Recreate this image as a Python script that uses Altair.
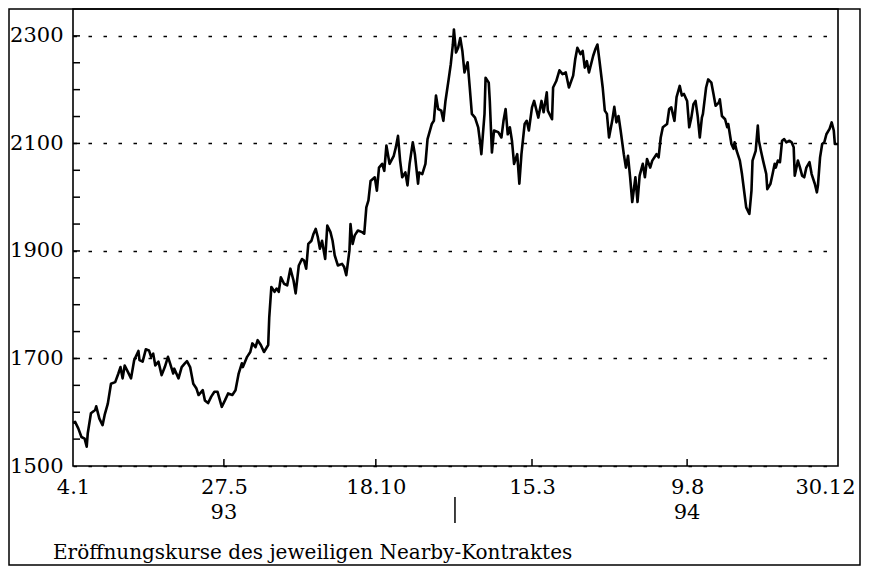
import altair as alt
import pandas as pd

# ---- data ----
# days since 4 Jan 1993 and opening price of the nearby contract
days = [0, 2, 5, 8, 11, 13, 14, 17, 21, 22, 25, 28, 30, 33, 36, 40, 43, 45, 47, 49,
        52, 55, 58, 62, 63, 66, 69, 72, 74, 76, 78, 81, 84, 87, 90, 92, 95, 96, 100, 103,
        106, 108, 111, 114, 117, 119, 123, 125, 128, 131, 134, 137, 141, 144, 147, 151,
        154, 157, 160, 161, 165, 168, 170, 173, 175, 178, 181, 185, 186, 188, 191, 193, 195, 197, 200, 203,
        206, 209, 211, 214, 217, 219, 221, 223, 226, 228, 230, 232, 234, 236, 239, 241, 244, 246, 248, 251,
        255, 257, 259, 262, 263, 265, 267, 270, 274, 276, 278, 280,
        282, 286, 288, 290, 293, 295, 297, 300, 304, 306, 308, 310, 312, 315, 317, 319, 322, 324, 327, 328,
        331, 334, 336, 340, 342, 344, 346, 349, 351, 353, 356, 358, 360, 361, 363, 365, 367, 369, 371, 374,
        376, 378, 381, 384, 386, 387, 390, 391, 394, 395, 397, 399, 403, 406, 408, 410, 412, 414, 416, 418,
        421, 423, 425, 428, 430, 432, 435, 437,
        441, 444, 446, 449, 450, 454, 455, 458, 461, 464, 467, 470, 474, 476, 478, 481, 483, 485, 487, 489,
        493, 495, 497, 499, 502, 504, 506, 508, 511, 513, 515, 517, 519, 522, 524, 526, 528, 530, 533, 535,
        537, 540, 542, 544, 547, 549, 553, 555, 557, 559, 563, 565, 567, 570, 572, 575, 577, 579,
        582, 584, 586, 588, 590, 592, 594, 596, 597, 600, 602, 605, 607, 609, 612, 613, 615, 618, 620, 621,
        623, 624, 626, 627, 629, 631, 632, 634, 636, 638, 641, 643, 644, 646, 647, 649, 650, 652, 654, 657,
        658, 661, 663, 665, 666, 668, 670, 672, 674, 676, 679, 681, 683, 684, 687, 689, 691, 693, 695, 698,
        700, 703, 705, 706, 708, 710, 712, 714, 717, 719, 721, 722, 725]
prices = [1580, 1582, 1570, 1554, 1551, 1536, 1561, 1598, 1604, 1611, 1588, 1576, 1595, 1616, 1653, 1656, 1672, 1684, 1663, 1687,
          1675, 1663, 1697, 1714, 1697, 1694, 1717, 1715, 1703, 1709, 1687, 1694, 1669, 1684, 1703, 1691, 1672, 1681, 1663, 1684,
          1691, 1695, 1684, 1653, 1644, 1632, 1641, 1622, 1617, 1629, 1638, 1638, 1610, 1622, 1635, 1632,
          1641, 1672, 1691, 1684, 1703, 1712, 1728, 1721, 1734, 1725, 1712, 1725, 1777, 1833, 1824, 1830, 1824, 1851, 1839, 1836,
          1867, 1845, 1821, 1873, 1885, 1882, 1867, 1913, 1919, 1932, 1941, 1926, 1904, 1919, 1885, 1947, 1935, 1919, 1892, 1873,
          1876, 1870, 1855, 1901, 1950, 1913, 1929, 1938, 1935, 1932, 1981, 1994,
          2030, 2037, 2012, 2055, 2062, 2049, 2096, 2062, 2077, 2093, 2114, 2068, 2037, 2046, 2022, 2062, 2102, 2080, 2025, 2046,
          2043, 2062, 2108, 2136, 2142, 2189, 2164, 2161, 2142, 2179, 2219, 2247, 2284, 2312, 2269, 2278, 2296, 2272, 2232, 2251,
          2204, 2155, 2148, 2130, 2099, 2080, 2155, 2222, 2213, 2179, 2083, 2124, 2121, 2111, 2142, 2164, 2117, 2130, 2105, 2062,
          2080, 2025, 2080, 2136, 2142, 2124, 2167, 2179,
          2148, 2179, 2158, 2195, 2161, 2145, 2204, 2216, 2236, 2229, 2232, 2204, 2226, 2257, 2278, 2266, 2272, 2241, 2253, 2232,
          2263, 2275, 2284, 2253, 2204, 2161, 2155, 2111, 2142, 2168, 2139, 2151, 2124, 2080, 2055, 2077, 2037, 1991, 2037, 1991,
          2040, 2062, 2037, 2071, 2055, 2068, 2080, 2074, 2111, 2130, 2136, 2164, 2167, 2142, 2186, 2207, 2189, 2192,
          2179, 2130, 2148, 2173, 2179, 2151, 2111, 2148, 2155, 2204, 2219, 2213, 2192, 2170, 2176, 2182, 2151, 2145, 2130, 2136,
          2111, 2099, 2090, 2102, 2086, 2074, 2068, 2043, 2012, 1981, 1969, 2012, 2068, 2080, 2086, 2133, 2105, 2086, 2068, 2043,
          2015, 2025, 2043, 2062, 2055, 2068, 2065, 2105, 2108, 2102, 2105, 2102, 2093, 2040, 2068, 2055, 2040, 2037, 2055, 2065,
          2043, 2025, 2009, 2022, 2074, 2099, 2102, 2117, 2127, 2139, 2124, 2099, 2099]

tick_dates = [(1993, 1, 4), (1993, 5, 27), (1993, 10, 18), (1994, 3, 15), (1994, 8, 9), (1994, 12, 30)]
y_label_values = [1500, 1700, 1900, 2100, 2300]
y_minor_values = [1550, 1600, 1650, 1700, 1750, 1800, 1850, 1900, 1950, 2000, 2050, 2100, 2150, 2200, 2250, 2300]
year_labels = ["93", "94"]
year_label_dates = ["1993-05-27", "1994-08-09"]
year_break = ["1994-01-01"]
caption = "Eröffnungskurse des jeweiligen Nearby-Kontraktes"

start = pd.Timestamp("1993-01-04")
dates = [(start + pd.Timedelta(days=d)).strftime("%Y-%m-%d") for d in days]
df = pd.DataFrame({"date": dates, "price": prices})

FONT = "DejaVu Serif"
def dt(t):
    return alt.DateTime(year=t[0], month=t[1], date=t[2], utc=True)

# the last x label (30.12) is pulled inside the page edge
last_test = "datum.value > 788000000000"

xscale = alt.Scale(type="utc", domain=[dt(tick_dates[0]), dt(tick_dates[-1])], nice=False)
yscale = alt.Scale(domain=[1500, 2350], nice=False, zero=False)

line = alt.Chart(df).mark_line(color="black", strokeWidth=2.6, strokeJoin="round").encode(
    x=alt.X("date:T", scale=xscale, title=None,
            axis=alt.Axis(values=[dt(t) for t in tick_dates], format="%-d.%-m", ticks=False,
                          grid=False, domain=False, labelFont=FONT, labelFontSize=21,
                          labelColor="black", labelPadding=10, labelFlush=False,
                          labelOverlap=False,
                          labelAlign={"condition": {"test": last_test, "value": "right"}, "value": "center"},
                          labelOffset={"condition": {"test": last_test, "value": 17}, "value": 0})),
    y=alt.Y("price:Q", scale=yscale, title=None,
            axis=alt.Axis(values=y_label_values, format="d", ticks=False, domain=False, grid=True,
                          gridDash=[3.5, 11.5], gridColor="black", gridWidth=1.6,
                          gridOpacity=1, labelFont=FONT, labelFontSize=21,
                          labelColor="black", labelPadding=10)),
)

xt = pd.DataFrame({"date": ["%04d-%02d-%02d" % t for t in tick_dates[1:-1]]})
x_ticks = alt.Chart(xt).mark_rule(color="black", strokeWidth=1.5).encode(
    x=alt.X("date:T", title=None), y=alt.value(457), y2=alt.value(450))

yt = pd.DataFrame({"price": y_minor_values})
y_ticks = alt.Chart(yt).mark_rule(color="black", strokeWidth=1.5).encode(
    y=alt.Y("price:Q", title=None), x=alt.value(0), x2=alt.value(7))

yl = pd.DataFrame({"date": year_label_dates, "label": year_labels})
years = alt.Chart(yl).mark_text(font=FONT, fontSize=21, color="black", baseline="middle").encode(
    x=alt.X("date:T", title=None), y=alt.value(504), text="label:N")

yb = pd.DataFrame({"date": year_break})
sep = alt.Chart(yb).mark_rule(color="black", strokeWidth=1.5).encode(
    x=alt.X("date:T", title=None), y=alt.value(488), y2=alt.value(514))

cap = alt.Chart(pd.DataFrame({"caption": [caption]})).mark_text(
    font=FONT, fontSize=20, color="black", align="left", baseline="alphabetic").encode(
    x=alt.value(-20), y=alt.value(550), text="caption:N")

frame = alt.Chart(pd.DataFrame({"k": [0]})).mark_rect(
    filled=False, stroke="black", strokeWidth=1.5).encode(
    x=alt.value(-64), x2=alt.value(787), y=alt.value(0), y2=alt.value(556))

chart = alt.layer(frame, line, x_ticks, y_ticks, years, sep, cap).properties(
    width=765, height=457,
    autosize=alt.AutoSizeParams(type="none"),
    padding={"left": 65, "top": 1, "right": 24, "bottom": 100},
    background="white",
).configure_view(stroke="black", strokeWidth=1.6)

chart.save("out.html", embed_options={"renderer": "svg", "actions": False})
